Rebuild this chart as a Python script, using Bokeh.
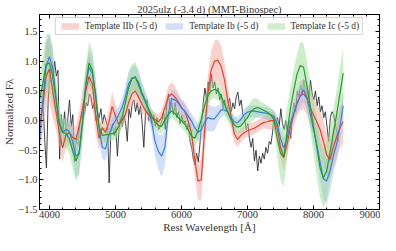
from bokeh.plotting import figure
from bokeh.models import (Range1d, LinearAxis, Legend, LegendItem, SingleIntervalTicker,
                          PrintfTickFormatter, CustomJSTickFormatter)
from bokeh.embed import file_html
from bokeh.resources import INLINE

# ---- template grid (Angstrom) ----
wl_tmpl = list(range(3850, 8451, 50))

iib = [-0.10, 0.25, 0.75, 0.87, 0.50, 0.15, -0.20, -0.46, -0.25, -0.20,
       -0.28, -0.32, -0.10, 0.20, 0.50, 0.74, 0.62, 0.10, -0.30, -0.12,
       -0.20, -0.03, 0.24, 0.08, -0.06, 0.00, 0.10, 0.30, 0.45, 0.50,
       0.40, 0.28, 0.18, 0.10, 0.05, 0.02, -0.02, 0.05, 0.22, 0.40,
       0.45, 0.40, 0.32, 0.22, 0.16, 0.00, -0.20, -0.64, -1.02, -1.00,
       -0.20, 0.45, 0.85, 1.00, 1.02, 0.92, 0.70, 0.35, 0.08, -0.22,
       -0.32, -0.25, -0.20, -0.17, -0.15, -0.13, -0.10, -0.06, -0.03, -0.02,
       0.00, 0.00, -0.12, -0.45, -0.62, -0.40, -0.12, 0.10, 0.30, 0.42,
       0.45, 0.38, 0.22, 0.10, -0.02, -0.15, -0.35, -0.58, -0.66, -0.45,
       -0.28, -0.12, -0.02]
iib_err = [0.35, 0.45, 0.55, 0.55, 0.45, 0.30, 0.25, 0.25, 0.20, 0.20,
           0.20, 0.22, 0.25, 0.30, 0.35, 0.40, 0.35, 0.30, 0.20, 0.15,
           0.18, 0.20, 0.25, 0.20, 0.15, 0.12, 0.12, 0.15, 0.18, 0.20,
           0.18, 0.15, 0.12, 0.12, 0.12, 0.12, 0.12, 0.12, 0.15, 0.18,
           0.20, 0.18, 0.15, 0.15, 0.15, 0.18, 0.22, 0.28, 0.32, 0.35,
           0.35, 0.30, 0.32, 0.35, 0.35, 0.35, 0.30, 0.25, 0.20, 0.15,
           0.12, 0.12, 0.10, 0.10, 0.10, 0.10, 0.10, 0.10, 0.10, 0.12,
           0.15, 0.15, 0.15, 0.20, 0.22, 0.20, 0.18, 0.20, 0.22, 0.25,
           0.25, 0.28, 0.30, 0.30, 0.30, 0.32, 0.35, 0.35, 0.35, 0.35,
           0.35, 0.35, 0.35]

ib = [-0.35, 0.35, 0.90, 1.08, 0.90, 0.40, -0.05, -0.20, -0.15, -0.18,
      -0.35, -0.60, -0.55, -0.05, 0.60, 0.90, 0.80, 0.45, -0.10, -0.45,
      -0.48, -0.25, -0.10, 0.00, 0.10, 0.22, 0.40, 0.62, 0.72, 0.73,
      0.65, 0.48, 0.35, 0.20, -0.03, -0.35, -0.52, -0.60, -0.45, 0.10,
      0.37, 0.35, 0.30, 0.22, 0.16, 0.08, 0.00, -0.12, -0.20, -0.16,
      -0.03, 0.05, 0.03, 0.03, 0.10, 0.18, 0.18, 0.15, 0.05, -0.02,
      -0.04, 0.02, 0.10, 0.14, 0.16, 0.16, 0.15, 0.14, 0.13, 0.12,
      0.10, 0.07, -0.05, -0.30, -0.46, -0.30, -0.05, 0.12, 0.28, 0.42,
      0.52, 0.40, 0.12, -0.15, -0.40, -0.70, -0.98, -1.02, -0.85, -0.60,
      -0.40, -0.10, 0.25]
ib_err = [0.30, 0.35, 0.40, 0.40, 0.35, 0.25, 0.20, 0.20, 0.20, 0.20,
          0.25, 0.35, 0.35, 0.30, 0.30, 0.30, 0.30, 0.25, 0.20, 0.20,
          0.20, 0.18, 0.15, 0.15, 0.15, 0.15, 0.18, 0.20, 0.20, 0.20,
          0.20, 0.18, 0.15, 0.15, 0.18, 0.25, 0.30, 0.35, 0.30, 0.20,
          0.15, 0.15, 0.12, 0.12, 0.12, 0.12, 0.12, 0.15, 0.15, 0.18,
          0.20, 0.22, 0.22, 0.20, 0.15, 0.12, 0.10, 0.10, 0.10, 0.10,
          0.10, 0.10, 0.10, 0.10, 0.10, 0.10, 0.10, 0.10, 0.10, 0.10,
          0.10, 0.10, 0.12, 0.15, 0.18, 0.15, 0.12, 0.12, 0.15, 0.18,
          0.20, 0.20, 0.20, 0.22, 0.25, 0.30, 0.35, 0.38, 0.35, 0.30,
          0.28, 0.25, 0.25]

ic = [0.35, 0.62, 0.95, 0.97, 0.75, 0.35, -0.05, -0.20, -0.22, -0.30,
      -0.50, -0.68, -0.55, -0.05, 0.60, 0.97, 0.85, 0.40, -0.10, -0.25,
      -0.24, -0.23, -0.22, -0.20, -0.10, 0.05, 0.30, 0.55, 0.70, 0.74,
      0.60, 0.45, 0.32, 0.20, 0.08, -0.02, -0.08, -0.10, 0.02, 0.10,
      0.16, 0.12, 0.05, 0.00, -0.06, -0.15, -0.26, -0.30, -0.18, 0.02,
      0.25, 0.42, 0.50, 0.53, 0.50, 0.42, 0.28, 0.15, 0.02, -0.07,
      -0.11, -0.09, -0.02, 0.05, 0.15, 0.20, 0.22, 0.20, 0.17, 0.14,
      0.10, 0.02, -0.30, -0.55, -0.62, -0.20, 0.20, 0.50, 0.78, 0.93,
      0.90, 0.60, 0.25, -0.10, -0.45, -0.80, -0.97, -0.85, -0.55, -0.22,
      0.10, 0.45, 0.80]
ic_err = [0.40, 0.45, 0.50, 0.50, 0.45, 0.30, 0.25, 0.25, 0.25, 0.25,
          0.30, 0.35, 0.35, 0.30, 0.30, 0.35, 0.35, 0.30, 0.20, 0.15,
          0.12, 0.12, 0.12, 0.12, 0.15, 0.18, 0.22, 0.25, 0.25, 0.25,
          0.22, 0.18, 0.15, 0.12, 0.12, 0.12, 0.12, 0.12, 0.12, 0.12,
          0.12, 0.12, 0.12, 0.12, 0.12, 0.12, 0.15, 0.15, 0.15, 0.15,
          0.15, 0.15, 0.15, 0.15, 0.15, 0.15, 0.15, 0.15, 0.12, 0.12,
          0.12, 0.12, 0.15, 0.18, 0.18, 0.18, 0.15, 0.12, 0.12, 0.12,
          0.12, 0.15, 0.30, 0.45, 0.50, 0.45, 0.35, 0.35, 0.35, 0.40,
          0.40, 0.40, 0.40, 0.45, 0.50, 0.50, 0.50, 0.50, 0.45, 0.40,
          0.40, 0.45, 0.45]

# ---- observed spectrum ----
wl_obs = list(range(3880, 8381, 25))
flux_obs = [0.10, 0.25, -0.35, -0.80, 0.30, 0.80, 0.95, 0.70, 1.00, 0.75,
            0.85, -0.65, 0.10, -0.20, 0.15, -0.25, 0.05, 0.35, -0.10, 0.10,
            -0.70, -0.30, -0.40, -0.10, 0.05, 0.15, 0.10, 0.30, 0.25, 0.45,
            0.40, 0.20, 0.30, 0.00, 0.15, 0.05, 0.20, -0.05, 0.10, 0.00,
            -0.10, -1.05, -0.20, -0.05, -0.25, -0.10, -0.60, -0.15, 0.05, -0.10,
            0.10, -0.05, -0.35, 0.20, 0.05, 0.30, 0.35, 0.15, 0.30, 0.10,
            0.25, -0.05, -0.45, 0.10, 0.35, 0.00, 0.15, -0.05, 0.10, -0.10,
            0.05, -0.15, -0.10, 0.00, 0.15, -0.15, 0.30, 0.45, 0.15, 0.30,
            0.10, 0.30, 0.05, 0.15, -0.05, 0.10, -0.05, 0.00, -0.15, -0.05,
            -0.35, -0.45, -0.65, -0.75, -0.55, -0.70, -0.40, -0.05, 0.30, 0.55,
            0.35, 0.65, 0.50, 0.78, 0.55, 0.65, 0.45, 0.55, 0.35, 0.45,
            0.20, 0.35, 0.15, 0.25, 0.38, 0.15, 0.30, 0.20, 0.40, 0.48,
            0.25, 0.35, 0.10, 0.05, -0.15, -0.05, -0.30, -0.45, -0.30, -0.68,
            -0.50, -0.85, -0.60, -0.72, -0.55, -0.65, -0.45, -0.55, -0.35, -0.40,
            -0.20, 0.10, -0.05, 0.05, -0.10, 0.20, -0.05, -0.15, 0.00, -0.20,
            0.00, -0.30, 0.10, 0.30, 0.15, 0.50, 0.40, 0.60, 0.45, 0.68,
            0.40, 0.55, 0.35, 0.68, 0.45, 0.35, 0.50, 0.25, 0.40, 0.15,
            0.25, 0.05, 0.15, -0.10, -0.35, 0.05, 0.15, 0.10, -0.05, -0.20,
            -0.35]

labels = ["Template IIb (-5 d)", "Template Ib (-5 d)", "Template Ic (-5 d)"]
title_text = "2025ulz (-3.4 d) (MMT-Binospec)"
y_tick_labels = {-1.5: "\u22121.5", -1: "\u22121.0", -0.5: "\u22120.5"}
x_ticks_interval = 1000
y_ticks_interval = 0.5

FONT = "Liberation Serif"

p = figure(width=380, height=235, x_range=Range1d(3850, 9000), y_range=Range1d(-1.5, 1.79),
           output_backend="svg", toolbar_location=None,
           min_border_left=0, min_border_right=1, min_border_top=0, min_border_bottom=0)
p.background_fill_color = "white"
p.border_fill_color = "white"
p.outline_line_color = "black"
p.outline_line_width = 1
p.grid.visible = False

n_obs = min(len(wl_obs), len(flux_obs))
p.line(wl_obs[:n_obs], flux_obs[:n_obs], line_color="#2b2f38", line_width=1.0, line_alpha=0.9)

series = [(iib, iib_err, "#e8402a", "#f59a90"),
          (ib, ib_err, "#3a7fe0", "#98b8ef"),
          (ic, ic_err, "#1f9e2c", "#92d98c")]
bands = []
n_t = len(wl_tmpl)
for vals, err, lc, fc in series:
    lo = [v - e for v, e in zip(vals, err)]
    hi = [v + e for v, e in zip(vals, err)]
    r = p.varea(x=wl_tmpl[:n_t], y1=lo, y2=hi, fill_color=fc, fill_alpha=0.45)
    bands.append(r)
for vals, err, lc, fc in series:
    p.line(wl_tmpl[:len(vals)], vals, line_color=lc, line_width=1.2)

xt = SingleIntervalTicker(interval=x_ticks_interval, num_minor_ticks=5)
yt = SingleIntervalTicker(interval=y_ticks_interval, num_minor_ticks=5)
blank = CustomJSTickFormatter(code="return '';")

def style_axis(ax):
    ax.axis_line_color = "black"
    ax.major_tick_line_color = "black"
    ax.minor_tick_line_color = "black"
    ax.major_tick_in = 4
    ax.major_tick_out = 0
    ax.minor_tick_in = 2
    ax.minor_tick_out = 0
    ax.major_label_text_font = FONT
    ax.major_label_text_font_size = "10.5px"
    ax.major_label_text_color = "#333333"
    ax.major_label_standoff = 1
    ax.axis_label_text_font = FONT
    ax.axis_label_text_font_style = "normal"
    ax.axis_label_text_font_size = "11px"
    ax.axis_label_text_color = "#333333"
    ax.axis_label_standoff = 0

p.xaxis.ticker = xt
p.yaxis.ticker = yt
p.yaxis.formatter = PrintfTickFormatter(format="%.1f")
p.yaxis.major_label_overrides = y_tick_labels
style_axis(p.xaxis[0])
style_axis(p.yaxis[0])
p.yaxis.major_label_standoff = 2
p.xaxis.axis_label = "Rest Wavelength [Å]"
p.yaxis.axis_label = "Normalized Fλ"

ra = LinearAxis(ticker=yt, formatter=blank)
style_axis(ra)
ra.major_label_standoff = 0
ra.major_label_text_font_size = "1px"
p.add_layout(ra, "right")
ta = LinearAxis(ticker=xt, formatter=blank)
style_axis(ta)
ta.major_label_standoff = 0
ta.major_label_text_font_size = "1px"
ta.axis_label = title_text
ta.axis_label_text_font_size = "10.5px"
ta.axis_label_standoff = 0
p.add_layout(ta, "above")

legend = Legend(items=[LegendItem(label=l, renderers=[r]) for l, r in zip(labels, bands)],
                orientation="horizontal", location="top_center")
legend.label_text_font = FONT
legend.label_text_font_size = "9.5px"
legend.label_text_color = "#333333"
legend.glyph_width = 22
legend.glyph_height = 8
legend.label_standoff = 4
legend.spacing = 6
legend.padding = 3
legend.margin = 3
legend.border_line_color = "#aaaaaa"
legend.border_line_width = 1
legend.background_fill_alpha = 0.9
legend.label_height = 9
p.add_layout(legend, "center")

open("out.html", "w").write(file_html(p, INLINE))
